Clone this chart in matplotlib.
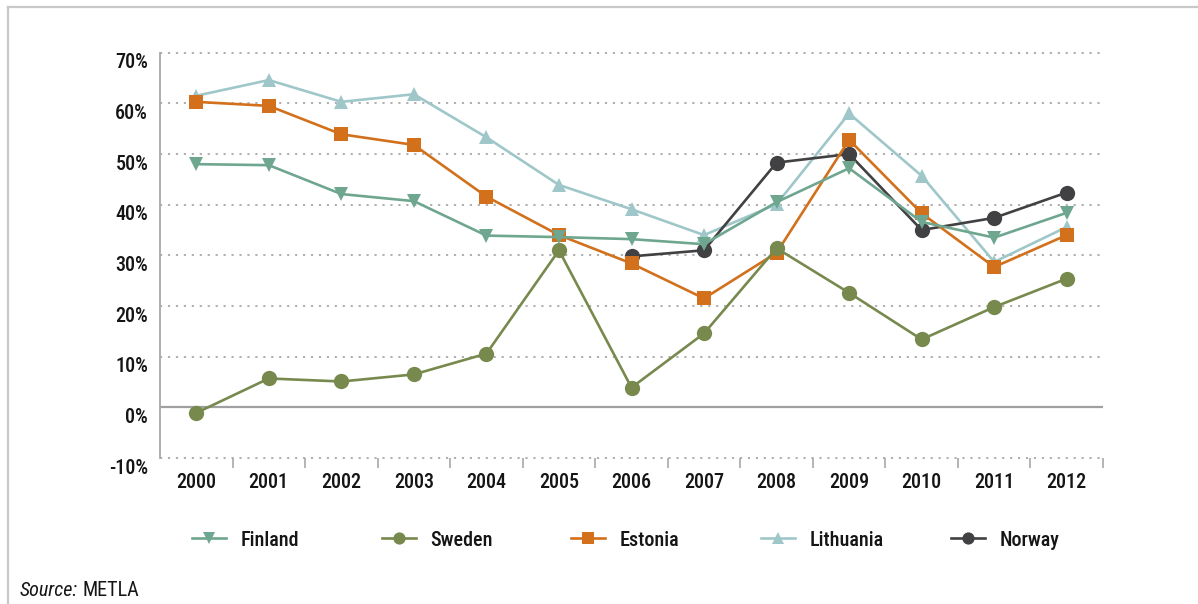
import glob
import os

import matplotlib
matplotlib.use("Agg")
import matplotlib.pyplot as plt
from matplotlib import font_manager as fm
from matplotlib.lines import Line2D
from matplotlib.transforms import ScaledTranslation
import numpy as np

years = ["2000", "2001", "2002", "2003", "2004", "2005", "2006",
         "2007", "2008", "2009", "2010", "2011", "2012"]

finland = [48.0, 47.8, 42.1, 40.7, 33.9, 33.6, 33.2, 32.2, 40.5, 47.2, 36.6, 33.5, 38.4]
sweden = [-1.1, 5.7, 5.1, 6.5, 10.6, 31.0, 3.9, 14.6, 31.4, 22.6, 13.4, 19.8, 25.4]
estonia = [60.3, 59.5, 53.9, 51.8, 41.6, 34.0, 28.4, 21.5, 30.5, 52.8, 38.3, 27.7, 34.0]
lithuania = [61.5, 64.6, 60.3, 61.8, 53.3, 43.9, 39.1, 34.0, 40.1, 58.0, 45.7, 28.7, 35.6]
norway = [None, None, None, None, None, None, 29.8, 31.0, 48.3, 50.0, 35.0, 37.4, 42.4]

y_ticks = [-10, 0, 10, 20, 30, 40, 50, 60, 70]
y_tick_labels = ["-10%", "0%", "10%", "20%", "30%", "40%", "50%", "60%", "70%"]

C_FIN = "#6fa690"
C_SWE = "#77894d"
C_EST = "#d2701c"
C_LIT = "#9fc7ca"
C_NOR = "#414143"
GRID = "#a8a8a8"
TEXT = "#151515"


# Prefer a narrow sans face for all labels; fall back to Liberation Sans.
def find_font(patterns):
    files = set(f.fname for f in fm.fontManager.ttflist)
    for ext in ("ttf", "otf", "TTF", "OTF"):
        files.update(glob.glob(f"/usr/share/fonts/**/*.{ext}", recursive=True))
        files.update(glob.glob(f"/usr/local/share/fonts/**/*.{ext}", recursive=True))
        files.update(glob.glob(os.path.expanduser(f"~/.fonts/**/*.{ext}"), recursive=True))
    files = sorted(files)
    for p in patterns:
        for f in files:
            if p.lower() in os.path.basename(f).lower():
                return f
    return None


medium_file = find_font(["RobotoCondensed-Medium.", "RobotoCondensed-Regular",
                         "LiberationSansNarrow-Regular", "OpenSans_Condensed-Regular",
                         "OpenSansCondensed-Regular", "OpenSans-CondensedRegular",
                         "NotoSans-CondensedMedium", "NotoSans-CondensedRegular",
                         "SansNarrow", "Condensed-Regular"])
regular_file = find_font(["RobotoCondensed-Regular", "LiberationSansNarrow-Regular",
                          "OpenSans_Condensed-Regular", "OpenSansCondensed-Regular",
                          "OpenSans-CondensedRegular", "NotoSans-CondensedRegular",
                          "SansNarrow", "Condensed-Regular"])
italic_file = find_font(["RobotoCondensed-Italic", "LiberationSansNarrow-Italic",
                         "OpenSans_Condensed-Italic", "OpenSansCondensed-Italic",
                         "OpenSans-CondensedItalic", "NotoSans-CondensedItalic",
                         "Condensed-Italic"])

if medium_file:
    FS = 14.5
    fp = fm.FontProperties(fname=medium_file, size=FS)
else:
    FS = 13.5
    fp = fm.FontProperties(family=["Liberation Sans", "DejaVu Sans"], size=FS)
fp_reg = fm.FontProperties(fname=regular_file, size=FS) if regular_file else fp.copy()
if italic_file:
    fp_it = fm.FontProperties(fname=italic_file, size=FS)
else:
    fp_it = fp_reg.copy()
    fp_it.set_style("italic")

W, H = 1198, 604
fig = plt.figure(figsize=(W / 100, H / 100), dpi=100)
ax = fig.add_axes([160 / W, 1 - 458 / H, (1103 - 160) / W, (458 - 52.7) / H])

x = np.arange(len(years))


def as_array(vals):
    return np.array([np.nan if v is None else v for v in vals], dtype=float)


series = [
    ("Lithuania", lithuania, C_LIT, "^", 10.5),
    ("Norway", norway, C_NOR, "o", 11),
    ("Estonia", estonia, C_EST, "s", 10.3),
    ("Sweden", sweden, C_SWE, "o", 11),
    ("Finland", finland, C_FIN, "v", 10.5),
]
handles = {}
for name, vals, col, mk, ms in series:
    ln, = ax.plot(x, as_array(vals), color=col, lw=1.9, marker=mk, ms=ms,
                  mec=col, mfc=col, mew=0, label=name, zorder=3, clip_on=False)
    handles[name] = ln

ax.set_xlim(-0.5, len(years) - 0.5)
ax.set_ylim(-10, 70)

# dotted horizontal grid, solid zero line
ax.set_yticks(y_ticks)
ax.set_yticklabels(y_tick_labels)
for yv in y_ticks:
    if yv != 0:
        ax.axhline(yv, color=GRID, lw=1.3, ls=(0, (1.2, 3.2)), zorder=1, clip_on=False)
ax.axhline(0, color="#a0a0a0", lw=1.6, zorder=2)

for side in ["top", "right", "bottom"]:
    ax.spines[side].set_visible(False)
ax.spines["left"].set_color("#a8a8a8")
ax.spines["left"].set_linewidth(1.3)

ax.tick_params(axis="y", length=0, pad=8.5, labelcolor=TEXT)
offset = ScaledTranslation(0, -0.08, fig.dpi_scale_trans)
for lbl in ax.get_yticklabels():
    lbl.set_fontproperties(fp)
    lbl.set_transform(lbl.get_transform() + offset)

ax.set_xticks(x)
ax.set_xticklabels(years)
ax.set_xticks(np.arange(len(years)) + 0.5, minor=True)
ax.tick_params(axis="x", which="major", length=0, pad=10.5, labelcolor=TEXT)
ax.tick_params(axis="x", which="minor", length=7, width=1.2, color="#a8a8a8", direction="out")
for lbl in ax.get_xticklabels():
    lbl.set_fontproperties(fp)

# legend: five evenly spaced entries
legend_order = ["Finland", "Sweden", "Estonia", "Lithuania", "Norway"]
starts = [192, 381.5, 571, 761, 951]
for name, sx in zip(legend_order, starts):
    lg = fig.legend([handles[name]], [name], loc="center left",
                    bbox_to_anchor=(sx / W, 1 - 540 / H), frameon=False,
                    borderpad=0, borderaxespad=0, handlelength=1.7,
                    handletextpad=0.7, markerscale=0.8, prop=fp)
    for t in lg.get_texts():
        t.set_color(TEXT)

# source note
src = fig.text(20 / W, 1 - 590 / H, "Source:", fontproperties=fp_it,
               color=TEXT, va="center", ha="left")
fig.add_artist(plt.Annotation("METLA", xy=(1, 0.5), xycoords=src, xytext=(3, 0),
                              textcoords="offset points", va="center", ha="left",
                              fontproperties=fp_reg, color=TEXT))

# outer frame (left and top edges)
fig.add_artist(Line2D([8 / W, 8 / W], [0, 1 - 7 / H], transform=fig.transFigure,
                      color="#c8c8c8", lw=1.6))
fig.add_artist(Line2D([8 / W, 1], [1 - 7 / H, 1 - 7 / H], transform=fig.transFigure,
                      color="#c8c8c8", lw=1.6))

fig.savefig("out.png", dpi=100, facecolor="white")
